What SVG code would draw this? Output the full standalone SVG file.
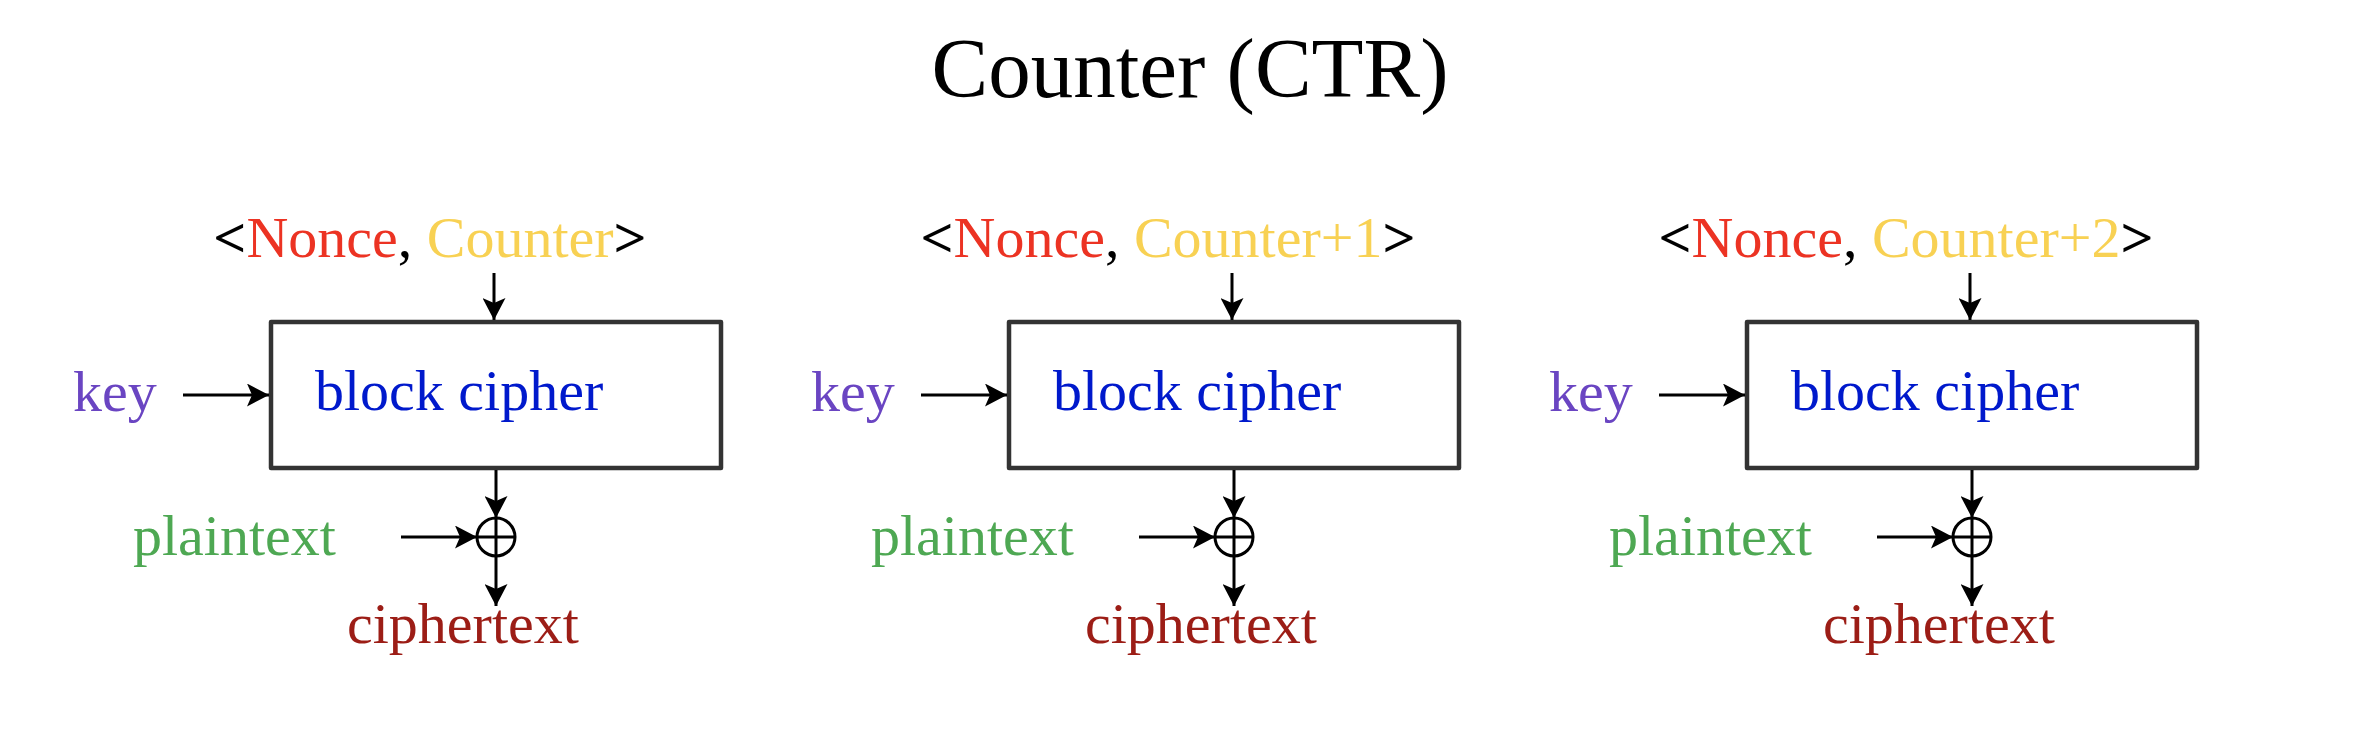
<svg xmlns="http://www.w3.org/2000/svg" width="2354" height="742" viewBox="0 0 2354 742">
<style>
text{font-family:"Liberation Serif","Times New Roman",serif;font-size:58px}
.title{font-size:85px;fill:#000}
.box{fill:#fff;stroke:#333;stroke-width:4.5;stroke-linejoin:round}
.bc{fill:#0019cc}
.key{fill:#6a45c2}
.pt{fill:#4ea853}
.ct{fill:#9c1d16}
.nonce{fill:#ec3323}
.ctr{fill:#f8d153}
.blk{fill:#000}
.br{fill:#000;font-weight:bold}
.conn line{stroke:#000;stroke-width:3;fill:none}
.xor{fill:none;stroke:#000;stroke-width:3}
</style>
<defs>
<marker id="ah" viewBox="0 0 22 23" refX="22" refY="11.5" markerWidth="22" markerHeight="23" markerUnits="userSpaceOnUse" orient="auto">
<path d="M0,0 L22,11.5 L0,23 L5,11.5 z" fill="#000"/>
</marker>
</defs>
<rect width="2354" height="742" fill="#fff"/>
<g id="title"><text class="title" x="1190" y="97" text-anchor="middle">Counter (CTR)</text></g>

<!-- Block 1 -->
<g id="input1"><text x="430" y="257" text-anchor="middle"><tspan class="br">&lt;</tspan><tspan class="nonce">Nonce</tspan><tspan class="blk">, </tspan><tspan class="ctr">Counter</tspan><tspan class="br">&gt;</tspan></text></g>
<g id="key1"><text class="key" x="73" y="411">key</text></g>
<g id="cipher1"><rect class="box" x="271" y="322" width="450" height="146"/><text class="bc" x="315" y="410">block cipher</text></g>
<g id="plain1"><text class="pt" x="133" y="555">plaintext</text></g>
<g id="xor1"><circle class="xor" cx="496" cy="537" r="19"/><line class="xor" x1="477" y1="537" x2="515" y2="537"/><line class="xor" x1="496" y1="518" x2="496" y2="556"/></g>
<g id="ct1"><text class="ct" x="347" y="643">ciphertext</text></g>

<!-- Block 2 -->
<g id="input2"><text x="1168" y="257" text-anchor="middle"><tspan class="br">&lt;</tspan><tspan class="nonce">Nonce</tspan><tspan class="blk">, </tspan><tspan class="ctr">Counter+1</tspan><tspan class="br">&gt;</tspan></text></g>
<g id="key2"><text class="key" x="811" y="411">key</text></g>
<g id="cipher2"><rect class="box" x="1009" y="322" width="450" height="146"/><text class="bc" x="1053" y="410">block cipher</text></g>
<g id="plain2"><text class="pt" x="871" y="555">plaintext</text></g>
<g id="xor2"><circle class="xor" cx="1234" cy="537" r="19"/><line class="xor" x1="1215" y1="537" x2="1253" y2="537"/><line class="xor" x1="1234" y1="518" x2="1234" y2="556"/></g>
<g id="ct2"><text class="ct" x="1085" y="643">ciphertext</text></g>

<!-- Block 3 -->
<g id="input3"><text x="1906" y="257" text-anchor="middle"><tspan class="br">&lt;</tspan><tspan class="nonce">Nonce</tspan><tspan class="blk">, </tspan><tspan class="ctr">Counter+2</tspan><tspan class="br">&gt;</tspan></text></g>
<g id="key3"><text class="key" x="1549" y="411">key</text></g>
<g id="cipher3"><rect class="box" x="1747" y="322" width="450" height="146"/><text class="bc" x="1791" y="410">block cipher</text></g>
<g id="plain3"><text class="pt" x="1609" y="555">plaintext</text></g>
<g id="xor3"><circle class="xor" cx="1972" cy="537" r="19"/><line class="xor" x1="1953" y1="537" x2="1991" y2="537"/><line class="xor" x1="1972" y1="518" x2="1972" y2="556"/></g>
<g id="ct3"><text class="ct" x="1823" y="643">ciphertext</text></g>

<g id="connectors" class="conn">
<line x1="494" y1="273" x2="494" y2="320" marker-end="url(#ah)"/>
<line x1="183" y1="395" x2="269" y2="395" marker-end="url(#ah)"/>
<line x1="496" y1="470" x2="496" y2="518" marker-end="url(#ah)"/>
<line x1="401" y1="537" x2="477" y2="537" marker-end="url(#ah)"/>
<line x1="496" y1="556" x2="496" y2="606" marker-end="url(#ah)"/>

<line x1="1232" y1="273" x2="1232" y2="320" marker-end="url(#ah)"/>
<line x1="921" y1="395" x2="1007" y2="395" marker-end="url(#ah)"/>
<line x1="1234" y1="470" x2="1234" y2="518" marker-end="url(#ah)"/>
<line x1="1139" y1="537" x2="1215" y2="537" marker-end="url(#ah)"/>
<line x1="1234" y1="556" x2="1234" y2="606" marker-end="url(#ah)"/>

<line x1="1970" y1="273" x2="1970" y2="320" marker-end="url(#ah)"/>
<line x1="1659" y1="395" x2="1745" y2="395" marker-end="url(#ah)"/>
<line x1="1972" y1="470" x2="1972" y2="518" marker-end="url(#ah)"/>
<line x1="1877" y1="537" x2="1953" y2="537" marker-end="url(#ah)"/>
<line x1="1972" y1="556" x2="1972" y2="606" marker-end="url(#ah)"/>
</g>
</svg>
